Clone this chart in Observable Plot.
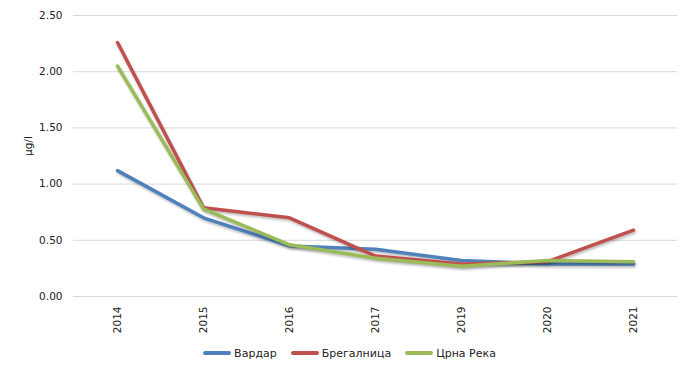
<!DOCTYPE html>
<html>
<head>
<meta charset="utf-8">
<script src="https://cdn.jsdelivr.net/npm/d3@7"></script>
<script src="https://cdn.jsdelivr.net/npm/@observablehq/plot@0.6"></script>
<style>
  body { margin: 0; background: #fff; font-family: "DejaVu Sans", Verdana, sans-serif; }
  #chart { width: 691px; }
  .legend { display: flex; justify-content: center; align-items: center; height: 30px; font-size: 11px; color: #222; margin-left: 8px; }
  .legend .item { display: flex; align-items: center; margin: 0 7px; }
  .legend .sw { width: 28px; height: 4px; border-radius: 2px; margin-right: 3px; }
</style>
</head>
<body>
<div id="chart"></div>
<script>
const years = ["2014", "2015", "2016", "2017", "2019", "2020", "2021"];
const seriesNames = ["Вардар", "Брегалница", "Црна Река"];
const colors = ["#4F81BD", "#C0504D", "#9BBB59"];
const vardar = [1.12, 0.70, 0.45, 0.42, 0.32, 0.29, 0.29];
const bregalnica = [2.26, 0.79, 0.70, 0.36, 0.29, 0.31, 0.59];
const crnaReka = [2.05, 0.78, 0.46, 0.34, 0.27, 0.32, 0.31];
const yTicks = [0, 0.5, 1, 1.5, 2, 2.5];
const yLabel = "µg/l";

const allSeries = [vardar, bregalnica, crnaReka];
const data = [];
allSeries.forEach((vals, s) => vals.forEach((v, i) => data.push({series: seriesNames[s], year: years[i], value: v})));

const plot = Plot.plot({
  width: 691,
  height: 338,
  marginLeft: 73,
  marginRight: 14,
  marginTop: 15,
  marginBottom: 42,
  style: {fontFamily: "DejaVu Sans, Verdana, sans-serif", fontSize: "10.5px", color: "#222"},
  x: {type: "point", domain: years, padding: 0.5},
  y: {domain: [0, 2.5]},
  color: {domain: seriesNames, range: colors},
  marks: [
    Plot.gridY(yTicks, {stroke: "#d9d9d9", strokeOpacity: 1, strokeWidth: 1}),
    Plot.axisY(yTicks, {tickSize: 0, tickPadding: 11, tickFormat: d => d.toFixed(2), label: null}),
    Plot.axisX({tickSize: 0, tickPadding: 10, tickRotate: -90, label: null}),
    Plot.text([yLabel], {frameAnchor: "left", dx: -45, dy: 0, rotate: -90, fontSize: 10.5, fill: "#222", x: null, y: null}),
    ...seriesNames.map((name, s) =>
      Plot.line(data.filter(d => d.series === name), {x: "year", y: "value", stroke: colors[s], strokeWidth: 3.5, strokeLinecap: "round", strokeLinejoin: "round", className: "ser"})
    )
  ]
});
document.getElementById("chart").appendChild(plot);
d3.select(plot).selectAll("g.ser").style("filter", "drop-shadow(1px 2px 1px rgba(0,0,0,0.25))");

const legend = d3.select("#chart").append("div").attr("class", "legend");
seriesNames.forEach((n, i) => {
  const it = legend.append("div").attr("class", "item");
  it.append("div").attr("class", "sw").style("background", colors[i]);
  it.append("span").text(n);
});
</script>
</body>
</html>
